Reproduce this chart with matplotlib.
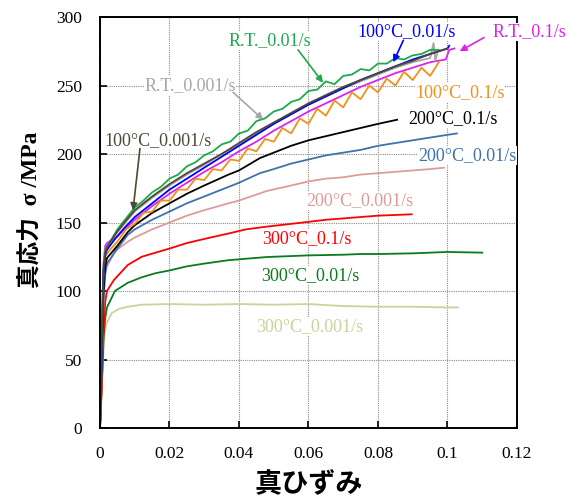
import matplotlib
matplotlib.use("Agg")
import matplotlib.pyplot as plt

# strain / stress
x_olive = [0, 0.0005, 0.001, 0.0015, 0.002, 0.004, 0.007, 0.01, 0.015, 0.02, 0.025, 0.03, 0.035,
           0.04, 0.045, 0.05, 0.055, 0.06, 0.065, 0.07, 0.075, 0.08, 0.085, 0.09, 0.095, 0.1]
y_olive = [0, 60, 115, 128, 132, 140, 150, 159, 169, 178, 186, 193, 200,
           208, 216, 223, 230, 237, 243, 249, 254, 259, 264, 268, 273, 277]

x_blue = [0, 0.0005, 0.001, 0.0015, 0.002, 0.004, 0.007, 0.01, 0.015, 0.02, 0.025, 0.03, 0.035,
          0.04, 0.045, 0.05, 0.055, 0.06, 0.065, 0.07, 0.075, 0.08, 0.085, 0.09, 0.095, 0.1, 0.1005]
y_blue = [0, 55, 112, 126, 130, 137, 146, 154, 164, 174, 182, 190, 198,
          206, 214, 222, 229, 236, 242, 248, 254, 259, 264, 269, 273, 277, 279]

x_gray = [0, 0.0005, 0.001, 0.0015, 0.002, 0.005, 0.01, 0.015, 0.02, 0.025, 0.03, 0.035, 0.04,
          0.045, 0.05, 0.055, 0.06, 0.065, 0.07, 0.075, 0.08, 0.085, 0.09, 0.095, 0.096, 0.0965, 0.097]
y_gray = [0, 65, 118, 130, 133, 143, 158, 168, 177, 185, 192, 200, 207,
          215, 222, 229, 236, 242, 248, 253, 258, 263, 267, 270, 281, 268, 273]

x_green = [0, 0.0005, 0.001, 0.0015, 0.002, 0.0025, 0.005, 0.0075, 0.01, 0.0125, 0.015, 0.0175,
           0.02, 0.0225, 0.025, 0.0275, 0.03, 0.0325, 0.035, 0.0375, 0.04, 0.0425, 0.045, 0.0475,
           0.05, 0.0525, 0.055, 0.0575, 0.06, 0.0625, 0.065, 0.0675, 0.07, 0.0725, 0.075, 0.0775,
           0.08, 0.0825, 0.085, 0.0875, 0.09, 0.0925, 0.095, 0.0975]
y_green = [0, 60, 116, 129, 132, 134, 145, 153, 161, 166, 172, 176,
           182, 185, 191, 194, 199, 202, 207, 209, 215, 217, 224, 226,
           231, 233, 238, 240, 246, 247, 253, 251, 257, 258, 262, 261,
           266, 266, 270, 269, 272, 273, 276, 276]

x_orange = [0, 0.0005, 0.001, 0.0015, 0.002, 0.0025, 0.005, 0.0075, 0.01, 0.0125, 0.015, 0.0175,
            0.02, 0.0225, 0.025, 0.0275, 0.03, 0.0325, 0.035, 0.0375, 0.04, 0.0425, 0.045, 0.0475,
            0.05, 0.0525, 0.055, 0.0575, 0.06, 0.0625, 0.065, 0.0675, 0.07, 0.0725, 0.075, 0.0775,
            0.08, 0.0825, 0.085, 0.0875, 0.09, 0.0925, 0.095, 0.0975]
y_orange = [0, 70, 115, 125, 127, 129, 136, 145, 149, 157, 158, 166,
            166, 174, 174, 182, 181, 189, 188, 196, 195, 204, 202, 211,
            209, 219, 215, 226, 222, 233, 228, 239, 234, 245, 240, 250,
            245, 255, 250, 260, 254, 263, 257, 267]

x_magenta = [0, 0.0005, 0.001, 0.0015, 0.002, 0.005, 0.01, 0.015, 0.02, 0.025, 0.03, 0.035, 0.04,
             0.045, 0.05, 0.055, 0.06, 0.065, 0.07, 0.075, 0.08, 0.085, 0.09, 0.095, 0.0995, 0.1005, 0.102]
y_magenta = [0, 70, 120, 133, 135, 140, 152, 162, 171, 179, 187, 194, 202,
             209, 217, 224, 231, 237, 243, 249, 254, 259, 263, 267, 269, 276, 277]

x_black = [0, 0.0005, 0.001, 0.0015, 0.002, 0.005, 0.008, 0.01, 0.015, 0.02, 0.025, 0.03, 0.037,
           0.04, 0.046, 0.05, 0.055, 0.06, 0.065, 0.07, 0.075, 0.08, 0.0855]
y_black = [0, 50, 100, 118, 124, 133, 143, 148, 157, 164, 171, 177, 185,
           188, 197, 201, 206, 210, 213, 216, 219, 222, 225]

x_steel = [0, 0.0005, 0.001, 0.0015, 0.002, 0.005, 0.008, 0.01, 0.015, 0.02, 0.025, 0.03, 0.037,
           0.04, 0.046, 0.05, 0.055, 0.06, 0.065, 0.07, 0.075, 0.08, 0.085, 0.09, 0.095, 0.1, 0.1027]
y_steel = [0, 45, 95, 113, 120, 131, 141, 145, 152, 158, 164, 169, 176,
           179, 186, 189, 193, 196, 199, 201, 203, 206, 208, 210, 212, 214, 215]

x_pink = [0, 0.0005, 0.001, 0.0015, 0.002, 0.0043, 0.008, 0.01, 0.015, 0.02, 0.025, 0.03, 0.037,
          0.04, 0.048, 0.055, 0.06, 0.065, 0.07, 0.075, 0.08, 0.085, 0.09, 0.095, 0.099]
y_pink = [0, 45, 92, 112, 118, 129, 136, 139, 145, 150, 155, 159, 164,
          166, 173, 177, 180, 182, 183, 185, 186, 187, 188, 189, 190]

x_red = [0, 0.0005, 0.001, 0.0015, 0.002, 0.004, 0.008, 0.012, 0.016, 0.02, 0.025, 0.03, 0.037,
         0.042, 0.048, 0.055, 0.06, 0.065, 0.07, 0.075, 0.08, 0.085, 0.0897]
y_red = [0, 30, 70, 92, 100, 108, 119, 125, 128, 131, 135, 138, 142,
         145, 147, 149, 150.5, 152, 153, 154, 155, 155.5, 156]

x_dgreen = [0, 0.0005, 0.001, 0.0015, 0.002, 0.0043, 0.008, 0.012, 0.016, 0.02, 0.025, 0.03, 0.037,
            0.048, 0.055, 0.06, 0.07, 0.075, 0.08, 0.09, 0.1, 0.11]
y_dgreen = [0, 30, 65, 80, 88, 100, 106, 110, 113, 115, 118, 120, 122.5,
            124.8, 125.5, 126, 126.5, 127, 127, 127.5, 128.5, 128]

x_lgreen = [0, 0.0004, 0.0008, 0.0012, 0.0018, 0.0034, 0.0055, 0.008, 0.012, 0.02, 0.03, 0.04,
            0.05, 0.06, 0.07, 0.08, 0.09, 0.1, 0.103]
y_lgreen = [0, 20, 45, 65, 76, 84, 87, 88.5, 90, 90.5, 90, 90.5,
            90, 90.5, 89, 88.5, 88.5, 88, 88]

# (x, y, colour, label, label xy, arrow start, arrow tip)
series = [
    (x_lgreen, y_lgreen, "#c3d69b", "300°C_0.001/s", (0.0604, 74), None, None),
    (x_dgreen, y_dgreen, "#0b7a1e", "300°C_0.01/s", (0.0604, 111.5), None, None),
    (x_red, y_red, "#ff0000", "300°C_0.1/s", (0.0595, 138.5), None, None),
    (x_pink, y_pink, "#dc9c9a", "200°C_0.001/s", (0.0748, 166), None, None),
    (x_steel, y_steel, "#3f72ab", "200°C_0.01/s", (0.1056, 199), None, None),
    (x_black, y_black, "#000000", "200°C_0.1/s", (0.1017, 226), None, None),
    (x_magenta, y_magenta, "#dd22ee", "R.T._0.1/s", (0.1235, 289), (0.1105, 285), (0.1035, 275)),
    (x_orange, y_orange, "#f39019", "100°C_0.1/s", (0.1036, 245), None, None),
    (x_gray, y_gray, "#a6a6a6", "R.T._0.001/s", (0.0259, 250), (0.0383, 245), (0.047, 225)),
    (x_green, y_green, "#1caa4c", "R.T._0.01/s", (0.0489, 283), (0.057, 276), (0.0642, 252)),
    (x_blue, y_blue, "#0000ff", "100°C_0.01/s", (0.0883, 289), (0.0873, 283), (0.0844, 267)),
    (x_olive, y_olive, "#4f4a35", "100°C_0.001/s", (0.0167, 210), (0.0115, 204), (0.0095, 159)),
]

fig = plt.figure(figsize=(5.77, 4.97), dpi=100)
ax = fig.add_axes([0.1733, 0.1388, 0.7227, 0.827])

for xs, ys, c, lab, txy, a0, a1 in series:
    ax.plot(xs, ys, color=c, lw=1.3)

for xs, ys, c, lab, txy, a0, a1 in series:
    ax.text(txy[0], txy[1], lab, color=c, fontsize=13, family="Liberation Serif",
            ha="center", va="center", zorder=5, clip_on=False,
            bbox=dict(facecolor="white", edgecolor="none", pad=0.5))
    if a0 is not None:
        ax.annotate("", xy=a1, xytext=a0, annotation_clip=False, zorder=6,
                    arrowprops=dict(arrowstyle="-|>", color=c, lw=1.2,
                                    mutation_scale=10, shrinkA=0, shrinkB=0))

ax.set_xlim(0, 0.12)
ax.set_ylim(0, 300)
ax.set_xticks([0, 0.02, 0.04, 0.06, 0.08, 0.1, 0.12])
ax.set_xticklabels(["0", "0.02", "0.04", "0.06", "0.08", "0.1", "0.12"])
ax.set_yticks(range(0, 301, 50))
ax.grid(True, color="#8c8c8c", linestyle=(0, (1, 1)), lw=0.8)
ax.tick_params(direction="in", length=5, width=1.2, pad=13, labelsize=12.5)
for lbl in ax.get_xticklabels() + ax.get_yticklabels():
    lbl.set_family("Liberation Serif")
for sp in ax.spines.values():
    sp.set_linewidth(1.4)

ax.set_xlabel("真ひずみ", family="Noto Sans CJK JP", fontweight="bold", fontsize=19.5, labelpad=5)
ax.set_ylabel("真応力  σ /MPa", family=["Liberation Serif", "Noto Sans CJK JP"],
              fontweight="bold", fontsize=17)
ax.yaxis.set_label_coords(-0.14, 0.53)

fig.savefig("out.png", dpi=100)
